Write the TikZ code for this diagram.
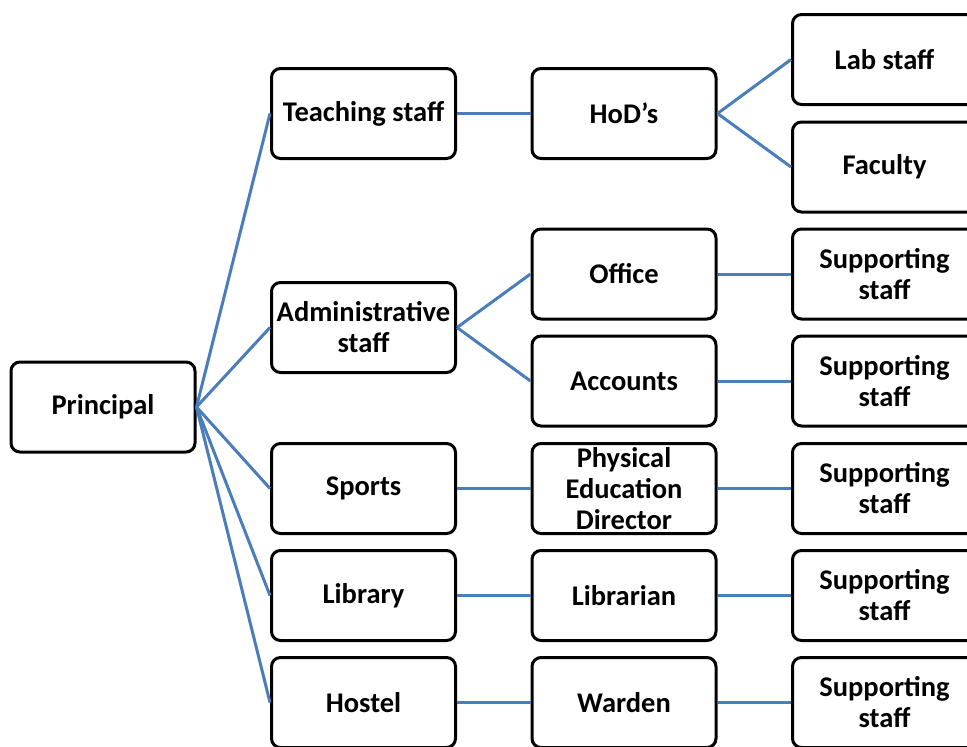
\documentclass[tikz,border=0pt]{standalone}
\usepackage{fontspec}
\setmainfont{Carlito}
\begin{document}
\begin{tikzpicture}[x=1pt,y=-1pt,
  box/.style={draw=black, line width=3pt, rounded corners=9pt, fill=white,
    minimum width=184pt, minimum height=90pt, inner sep=1pt,
    align=center, font=\bfseries\fontsize{28.5}{31}\selectfont},
  link/.style={draw=linkblue, line width=3pt}]
\definecolor{linkblue}{RGB}{74,126,187}
\useasboundingbox (0,0) rectangle (967,747);
\clip (0,0) rectangle (967,747);

% root
\node[box] (principal) at (103,407) {Principal};

% departments
\node[box] (teach) at (363.5,113.5) {Teaching staff};
\node[box] (admin) at (363.5,327.5) {Administrative\\staff};
\node[box] (sports) at (363.5,488.5) {Sports};
\node[box] (library) at (363.5,595.5) {Library};
\node[box] (hostel) at (363.5,702.5) {Hostel};

% heads
\node[box] (hod) at (624,113.5) {HoD’s};
\node[box] (office) at (624,274) {Office};
\node[box] (accounts) at (624,381) {Accounts};
\node[box] (ped) at (624,488.5) {Physical\\Education\\Director};
\node[box] (librarian) at (624,595.5) {Librarian};
\node[box] (warden) at (624,702.5) {Warden};

% staff
\node[box] (lab) at (884.5,59.5) {Lab staff};
\node[box] (faculty) at (884.5,167) {Faculty};
\node[box] (sup1) at (884.5,274) {Supporting\\staff};
\node[box] (sup2) at (884.5,381) {Supporting\\staff};
\node[box] (sup3) at (884.5,488.5) {Supporting\\staff};
\node[box] (sup4) at (884.5,595.5) {Supporting\\staff};
\node[box] (sup5) at (884.5,702.5) {Supporting\\staff};

% connectors
\foreach \d in {teach,admin,sports,library,hostel}
  \draw[link] (principal.east) -- (\d.west);
\draw[link] (teach.east) -- (hod.west);
\draw[link] (hod.east) -- (lab.west);
\draw[link] (hod.east) -- (faculty.west);
\draw[link] (admin.east) -- (office.west);
\draw[link] (admin.east) -- (accounts.west);
\draw[link] (office.east) -- (sup1.west);
\draw[link] (accounts.east) -- (sup2.west);
\draw[link] (sports.east) -- (ped.west);
\draw[link] (ped.east) -- (sup3.west);
\draw[link] (library.east) -- (librarian.west);
\draw[link] (librarian.east) -- (sup4.west);
\draw[link] (hostel.east) -- (warden.west);
\draw[link] (warden.east) -- (sup5.west);
\end{tikzpicture}
\end{document}
